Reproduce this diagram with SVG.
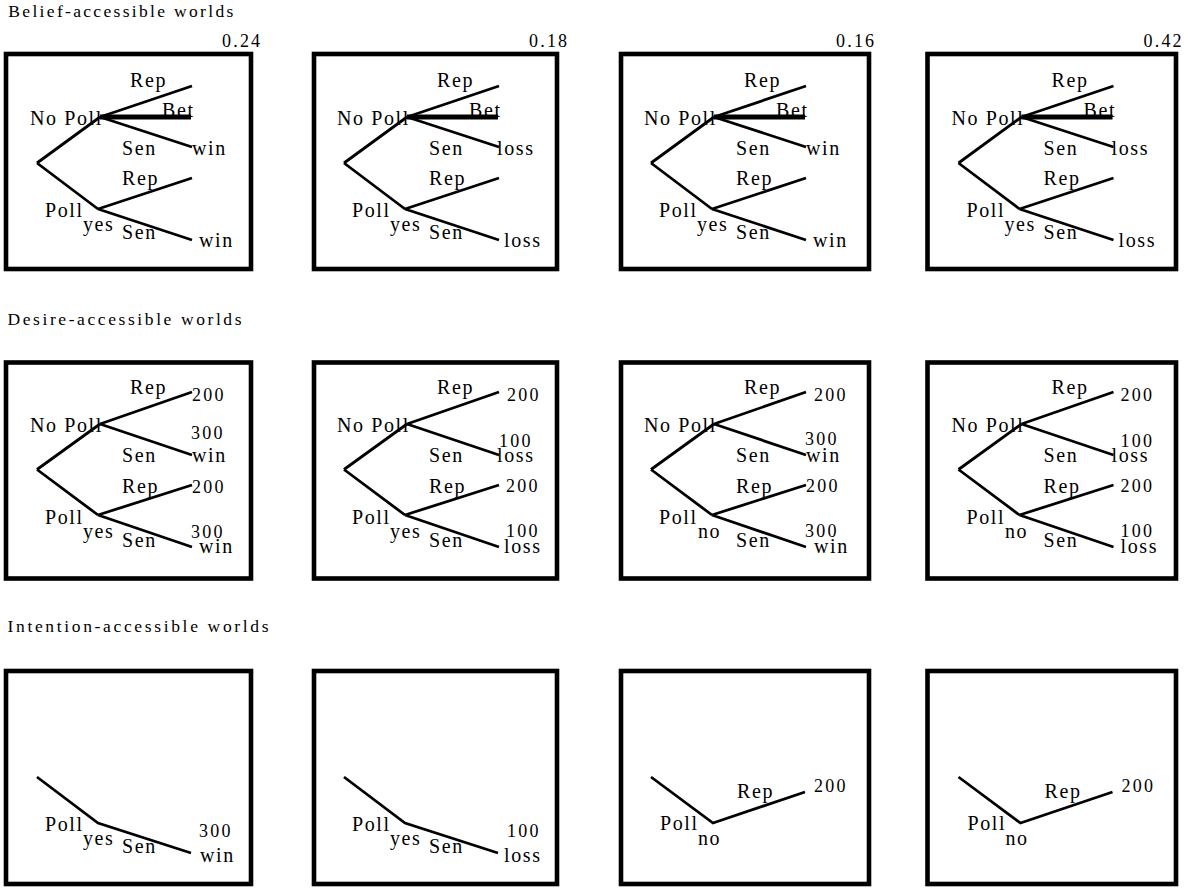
<svg xmlns="http://www.w3.org/2000/svg" width="1194" height="888" viewBox="0 0 1194 888">
<style>
.t{font-family:"Liberation Serif","Times New Roman",serif;font-size:20px;letter-spacing:1.6px;fill:#000}
.n{font-family:"Liberation Serif","Times New Roman",serif;font-size:18px;letter-spacing:2.2px;fill:#000}
.h{font-family:"Liberation Serif","Times New Roman",serif;font-size:17.5px;fill:#000}
.box{fill:none;stroke:#000;stroke-width:4.6}
.e{fill:none;stroke:#000;stroke-width:2.8;stroke-linejoin:miter;stroke-linecap:butt}
.bet{fill:none;stroke:#000;stroke-width:5}
</style>
<rect x="0" y="0" width="1194" height="888" fill="#fff"/>

<g id="titles">
<text class="h" x="8.3" y="16.7" textLength="225" lengthAdjust="spacing">Belief-accessible worlds</text>
<text class="h" x="7.5" y="324.5" textLength="234" lengthAdjust="spacing">Desire-accessible worlds</text>
<text class="h" x="7.5" y="632" textLength="261" lengthAdjust="spacing">Intention-accessible worlds</text>
</g>

<!-- ===== Belief row ===== -->
<g id="belief-1">
<rect class="box" x="6" y="54" width="245" height="215"/>
<text class="n" x="222" y="46.7">0.24</text>
<g id="b1-nodes">
<text class="t" x="130" y="87">Rep</text>
<text class="t" x="162" y="117">Bet</text>
<text class="t" x="30" y="125">No Poll</text>
<text class="t" x="122" y="155">Sen</text>
<text class="t" x="192" y="155">win</text>
<text class="t" x="122" y="185">Rep</text>
<text class="t" x="45" y="217">Poll</text>
<text class="t" x="83" y="231">yes</text>
<text class="t" x="122" y="239">Sen</text>
<text class="t" x="199" y="247">win</text>
</g>
<g id="b1-connectors">
<path class="e" d="M37,163 L100,117 M100,117 L192,86 M100,117 L192,147 M37,163 L98,209 M98,209 L192,178 M98,209 L192,240"/>
<path class="bet" d="M100,117 L191,117"/>
</g>
</g>

<g id="belief-2" transform="translate(307,0)">
<rect class="box" x="7" y="54" width="243" height="215"/>
<text class="n" x="222" y="46.7">0.18</text>
<g id="b2-nodes">
<text class="t" x="130" y="87">Rep</text>
<text class="t" x="162" y="117">Bet</text>
<text class="t" x="30" y="125">No Poll</text>
<text class="t" x="122" y="155">Sen</text>
<text class="t" x="190" y="155">loss</text>
<text class="t" x="122" y="185">Rep</text>
<text class="t" x="45" y="217">Poll</text>
<text class="t" x="83" y="231">yes</text>
<text class="t" x="122" y="239">Sen</text>
<text class="t" x="197" y="247">loss</text>
</g>
<g id="b2-connectors">
<path class="e" d="M37,163 L100,117 M100,117 L192,86 M100,117 L192,147 M37,163 L98,209 M98,209 L192,178 M98,209 L192,240"/>
<path class="bet" d="M100,117 L191,117"/>
</g>
</g>

<g id="belief-3" transform="translate(614,0)">
<rect class="box" x="7" y="54" width="248" height="215"/>
<text class="n" x="222" y="46.7">0.16</text>
<g id="b3-nodes">
<text class="t" x="130" y="87">Rep</text>
<text class="t" x="162" y="117">Bet</text>
<text class="t" x="30" y="125">No Poll</text>
<text class="t" x="122" y="155">Sen</text>
<text class="t" x="192" y="155">win</text>
<text class="t" x="122" y="185">Rep</text>
<text class="t" x="45" y="217">Poll</text>
<text class="t" x="83" y="231">yes</text>
<text class="t" x="122" y="239">Sen</text>
<text class="t" x="199" y="247">win</text>
</g>
<g id="b3-connectors">
<path class="e" d="M37,163 L100,117 M100,117 L192,86 M100,117 L192,147 M37,163 L98,209 M98,209 L192,178 M98,209 L192,240"/>
<path class="bet" d="M100,117 L191,117"/>
</g>
</g>

<g id="belief-4" transform="translate(921.5,0)">
<rect class="box" x="6" y="54" width="248.5" height="215"/>
<text class="n" x="222" y="46.7">0.42</text>
<g id="b4-nodes">
<text class="t" x="130" y="87">Rep</text>
<text class="t" x="162" y="117">Bet</text>
<text class="t" x="30" y="125">No Poll</text>
<text class="t" x="122" y="155">Sen</text>
<text class="t" x="190" y="155">loss</text>
<text class="t" x="122" y="185">Rep</text>
<text class="t" x="45" y="217">Poll</text>
<text class="t" x="83" y="231">yes</text>
<text class="t" x="122" y="239">Sen</text>
<text class="t" x="197" y="247">loss</text>
</g>
<g id="b4-connectors">
<path class="e" d="M37,163 L100,117 M100,117 L192,86 M100,117 L192,147 M37,163 L98,209 M98,209 L192,178 M98,209 L192,240"/>
<path class="bet" d="M100,117 L191,117"/>
</g>
</g>

<!-- ===== Desire row ===== -->
<g id="desire-1" transform="translate(0,307)">
<rect class="box" x="6" y="55.5" width="245" height="216"/>
<g id="d1-nodes">
<text class="t" x="130" y="86.5">Rep</text>
<text class="n" x="192" y="93.7">200</text>
<text class="t" x="30" y="124.7">No Poll</text>
<text class="n" x="191" y="132">300</text>
<text class="t" x="122" y="155.3">Sen</text>
<text class="t" x="192" y="155.3">win</text>
<text class="t" x="122" y="186.3">Rep</text>
<text class="n" x="192" y="186.3">200</text>
<text class="t" x="45" y="216.5">Poll</text>
<text class="t" x="83" y="231.3">yes</text>
<text class="t" x="122" y="239.7">Sen</text>
<text class="n" x="191" y="231.3">300</text>
<text class="t" x="199" y="246.3">win</text>
</g>
<g id="d1-connectors">
<path class="e" d="M37,162.5 L100,117 M100,117 L192,85 M100,117 L192,148 M37,162.5 L98,208 M98,208 L192,178 M98,208 L192,240"/>
</g>
</g>

<g id="desire-2" transform="translate(307,307)">
<rect class="box" x="7" y="55.5" width="243" height="216"/>
<g id="d2-nodes">
<text class="t" x="130" y="86.5">Rep</text>
<text class="n" x="200" y="93.7">200</text>
<text class="t" x="30" y="124.7">No Poll</text>
<text class="n" x="192" y="139.7">100</text>
<text class="t" x="122" y="155.3">Sen</text>
<text class="t" x="190" y="154.7">loss</text>
<text class="t" x="122" y="186.3">Rep</text>
<text class="n" x="199" y="184.7">200</text>
<text class="t" x="45" y="216.5">Poll</text>
<text class="t" x="83" y="231.3">yes</text>
<text class="t" x="122" y="239.7">Sen</text>
<text class="n" x="199" y="229.7">100</text>
<text class="t" x="197" y="246.3">loss</text>
</g>
<g id="d2-connectors">
<path class="e" d="M37,162.5 L100,117 M100,117 L192,85 M100,117 L192,148 M37,162.5 L98,208 M98,208 L192,178 M98,208 L192,240"/>
</g>
</g>

<g id="desire-3" transform="translate(614,307)">
<rect class="box" x="7" y="55.5" width="248" height="216"/>
<g id="d3-nodes">
<text class="t" x="130" y="86.5">Rep</text>
<text class="n" x="200" y="93.7">200</text>
<text class="t" x="30" y="124.7">No Poll</text>
<text class="n" x="191" y="138">300</text>
<text class="t" x="122" y="155.3">Sen</text>
<text class="t" x="192" y="154.7">win</text>
<text class="t" x="122" y="186.3">Rep</text>
<text class="n" x="192" y="184.7">200</text>
<text class="t" x="45" y="216.5">Poll</text>
<text class="t" x="84" y="231.3">no</text>
<text class="t" x="122" y="239.7">Sen</text>
<text class="n" x="191" y="229.7">300</text>
<text class="t" x="200" y="246.3">win</text>
</g>
<g id="d3-connectors">
<path class="e" d="M37,162.5 L100,117 M100,117 L192,85 M100,117 L192,148 M37,162.5 L98,208 M98,208 L192,178 M98,208 L192,240"/>
</g>
</g>

<g id="desire-4" transform="translate(921.5,307)">
<rect class="box" x="6" y="55.5" width="248.5" height="216"/>
<g id="d4-nodes">
<text class="t" x="130" y="86.5">Rep</text>
<text class="n" x="199" y="93.7">200</text>
<text class="t" x="30" y="124.7">No Poll</text>
<text class="n" x="199" y="139.7">100</text>
<text class="t" x="122" y="155.3">Sen</text>
<text class="t" x="190" y="154.7">loss</text>
<text class="t" x="122" y="186.3">Rep</text>
<text class="n" x="199" y="184.7">200</text>
<text class="t" x="45" y="216.5">Poll</text>
<text class="t" x="83.5" y="231.3">no</text>
<text class="t" x="122" y="239.7">Sen</text>
<text class="n" x="199" y="229.7">100</text>
<text class="t" x="199" y="246.3">loss</text>
</g>
<g id="d4-connectors">
<path class="e" d="M37,162.5 L100,117 M100,117 L192,85 M100,117 L192,148 M37,162.5 L98,208 M98,208 L192,178 M98,208 L192,240"/>
</g>
</g>

<!-- ===== Intention row ===== -->
<g id="intention-1" transform="translate(0,614)">
<rect class="box" x="6" y="57" width="245" height="213"/>
<g id="i1-nodes">
<text class="t" x="45" y="216.7">Poll</text>
<text class="t" x="83" y="231">yes</text>
<text class="t" x="122" y="239.3">Sen</text>
<text class="n" x="199" y="222.7">300</text>
<text class="t" x="200" y="247.7">win</text>
</g>
<g id="i1-connectors">
<path class="e" d="M37,163 L98,209 L191,239"/>
</g>
</g>

<g id="intention-2" transform="translate(307,614)">
<rect class="box" x="7" y="57" width="243" height="213"/>
<g id="i2-nodes">
<text class="t" x="45" y="216.7">Poll</text>
<text class="t" x="83" y="231">yes</text>
<text class="t" x="122" y="239.3">Sen</text>
<text class="n" x="200" y="222.7">100</text>
<text class="t" x="197" y="247.7">loss</text>
</g>
<g id="i2-connectors">
<path class="e" d="M37,163 L98,209 L191,239"/>
</g>
</g>

<g id="intention-3" transform="translate(614,614)">
<rect class="box" x="7" y="57" width="248" height="213"/>
<g id="i3-nodes">
<text class="t" x="46" y="216">Poll</text>
<text class="t" x="84" y="231">no</text>
<text class="t" x="123" y="184.3">Rep</text>
<text class="n" x="200" y="177.7">200</text>
</g>
<g id="i3-connectors">
<path class="e" d="M37,163 L99,209 L191,178"/>
</g>
</g>

<g id="intention-4" transform="translate(921.5,614)">
<rect class="box" x="6" y="57" width="248.5" height="213"/>
<g id="i4-nodes">
<text class="t" x="46" y="216">Poll</text>
<text class="t" x="84" y="231">no</text>
<text class="t" x="123" y="184.3">Rep</text>
<text class="n" x="200" y="177.7">200</text>
</g>
<g id="i4-connectors">
<path class="e" d="M37,163 L99,209 L191,178"/>
</g>
</g>
</svg>
